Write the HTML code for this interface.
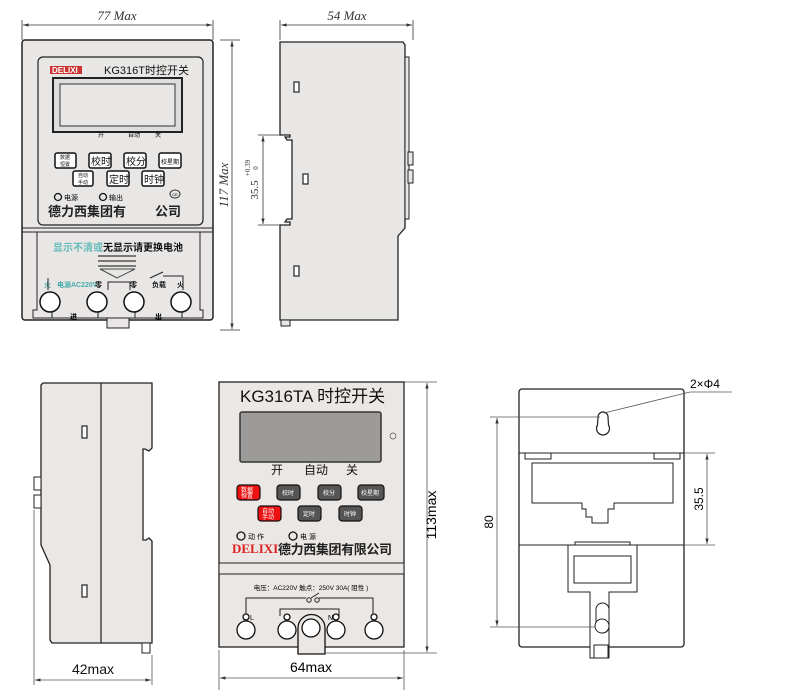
<!DOCTYPE html>
<html><head><meta charset="utf-8"><style>body{margin:0;background:#fff}svg{display:block}</style></head><body>
<svg width="790" height="700" viewBox="0 0 790 700" xmlns="http://www.w3.org/2000/svg" font-family="Liberation Sans, Noto Sans CJK SC, sans-serif">
<defs><marker id="a" viewBox="0 0 10 10" refX="10" refY="5" markerWidth="7" markerHeight="7" orient="auto-start-reverse"><path d="M0,2 L10,5 L0,8z" fill="#333"/></marker></defs>
<g stroke="#333" stroke-width="0.8" fill="none">
<line x1="22" y1="20" x2="22" y2="40"/><line x1="213" y1="20" x2="213" y2="40"/>
<line x1="23" y1="25" x2="212" y2="25" marker-start="url(#a)" marker-end="url(#a)"/>
<line x1="220" y1="40" x2="240" y2="40"/><line x1="220" y1="330" x2="240" y2="330"/>
<line x1="232" y1="41" x2="232" y2="329" marker-start="url(#a)" marker-end="url(#a)"/>
</g>
<text x="117" y="20" font-family="Liberation Serif" font-style="italic" font-size="13" text-anchor="middle" fill="#333">77 Max</text>
<text transform="translate(228,185) rotate(-90)" font-family="Liberation Serif" font-style="italic" font-size="13" text-anchor="middle" fill="#333">117 Max</text>
<rect x="22" y="40" width="191" height="280" rx="3" fill="#e9e7e5" stroke="#222" stroke-width="1.5"/>
<rect x="38" y="57" width="165" height="168" rx="5" fill="#e9e7e5" stroke="#222" stroke-width="1.2"/>
<line x1="22" y1="228" x2="213" y2="228" stroke="#222"/><line x1="22" y1="232" x2="213" y2="232" stroke="#222"/>
<path d="M37,232 V310 H33 V318 H203 V310 H200 V232" fill="none" stroke="#222"/>
<rect x="107" y="318" width="22" height="10" fill="#e9e7e5" stroke="#222"/>
<rect x="50" y="66" width="32" height="8" fill="#c33"/>
<text x="52" y="73" font-size="8" font-weight="bold" fill="#fff">DELIXI</text>
<text x="104" y="74" font-size="11" fill="#111">KG316T时控开关</text>
<rect x="53" y="78" width="129" height="54" fill="#ddd" stroke="#222" stroke-width="2"/>
<rect x="60" y="84" width="115" height="42" fill="#e9e7e5" stroke="#333"/>
<text x="98" y="137" font-size="6">开</text><text x="128" y="137" font-size="6">自动</text><text x="155" y="137" font-size="6">关</text>
<g fill="#fff" stroke="#111" stroke-width="1.5">
<rect x="55" y="153" width="21" height="15" rx="2"/><rect x="89" y="153" width="22" height="15" rx="2"/><rect x="124" y="153" width="22" height="15" rx="2"/><rect x="159" y="153" width="22" height="15" rx="2"/>
<rect x="73" y="171" width="20" height="15" rx="2"/><rect x="107" y="171" width="22" height="15" rx="2"/><rect x="142" y="171" width="22" height="15" rx="2"/>
</g>
<g font-size="10" fill="#111"><text x="91" y="165">校时</text><text x="126" y="165">校分</text><text x="109" y="183">定时</text><text x="144" y="183">时钟</text></g>
<text x="161" y="164" font-size="6">校星期</text>
<g font-size="5" fill="#111"><text x="60" y="159">数据</text><text x="60" y="166">恒置</text><text x="78" y="177">自动</text><text x="78" y="184">手动</text></g>
<circle cx="58" cy="197" r="3.5" fill="none" stroke="#111" stroke-width="1.3"/><text x="64" y="200" font-size="7">电源</text>
<circle cx="103" cy="197" r="3.5" fill="none" stroke="#111" stroke-width="1.3"/><text x="109" y="200" font-size="7">输出</text>
<ellipse cx="175" cy="194" rx="5" ry="4" fill="none" stroke="#333"/><text x="175" y="196" font-size="4" text-anchor="middle">CE</text>
<text x="48" y="216" font-size="13" font-weight="bold" fill="#222">德力西集团有</text><text x="155" y="216" font-size="13" font-weight="bold" fill="#222">公司</text>
<text x="53" y="251" font-size="10" font-weight="bold" fill="#6bb"><tspan>显示不清或</tspan><tspan fill="#111">无显示请更换电池</tspan></text>
<g stroke="#555" stroke-width="1.5"><line x1="98" y1="256" x2="136" y2="256"/><line x1="98" y1="261" x2="136" y2="261"/><line x1="98" y1="266" x2="136" y2="266"/></g>
<path d="M100,269 H135 L117,278z" fill="#e9e7e5" stroke="#444"/>
<g font-size="7" font-weight="bold" fill="#111"><text x="44" y="287" fill="#4aa">火</text><text x="57" y="287" fill="#4aa">电源AC220V</text><text x="95" y="287">零</text><text x="130" y="287">零</text><text x="152" y="287">负载</text><text x="177" y="287">火</text></g>
<g fill="none" stroke="#222"><line x1="48" y1="278" x2="48" y2="290"/><path d="M108,290 V282 H130 V290"/><path d="M150,278 L163,272"/><path d="M163,276 H183 V290"/>
<path d="M52,312 V318 H98 V312"/><path d="M135,312 V318 H182 V312"/></g>
<g fill="#fff" stroke="#111" stroke-width="1.5"><circle cx="50" cy="302" r="10"/><circle cx="97" cy="302" r="10"/><circle cx="134" cy="302" r="10"/><circle cx="181" cy="302" r="10"/></g>
<text x="70" y="319" font-size="7" font-weight="bold">进</text><text x="155" y="319" font-size="7" font-weight="bold">出</text>
<g stroke="#333" stroke-width="0.8" fill="none">
<line x1="280" y1="20" x2="280" y2="40"/><line x1="413" y1="20" x2="413" y2="40"/>
<line x1="281" y1="25" x2="412" y2="25" marker-start="url(#a)" marker-end="url(#a)"/>
<line x1="258" y1="135" x2="282" y2="135"/><line x1="258" y1="225" x2="282" y2="225"/>
<line x1="263" y1="136" x2="263" y2="224" marker-start="url(#a)" marker-end="url(#a)"/>
</g>
<text x="347" y="20" font-family="Liberation Serif" font-style="italic" font-size="13" text-anchor="middle" fill="#333">54 Max</text>
<text transform="translate(258,190) rotate(-90)" font-family="Liberation Serif" font-size="11" text-anchor="middle" fill="#333">35.5</text>
<text transform="translate(250,168) rotate(-90)" font-family="Liberation Serif" font-size="7" text-anchor="middle" fill="#333">+0.39</text>
<text transform="translate(258,168) rotate(-90)" font-family="Liberation Serif" font-size="7" text-anchor="middle" fill="#333">0</text>
<path d="M280,42 H403 L405,45 V228 L398,236 V320 H280 V225 H290 V222 L285,222 L287,219 H292 V140 H287 L285,137 H290 V135 H280z" fill="#e9e7e5" stroke="#222" stroke-width="1.3"/>
<rect x="405" y="57" width="4" height="162" fill="#e9e7e5" stroke="#222"/>
<rect x="408" y="152" width="5" height="13" fill="#e9e7e5" stroke="#222"/><rect x="408" y="170" width="5" height="13" fill="#e9e7e5" stroke="#222"/>
<rect x="281" y="320" width="9" height="6" fill="#e9e7e5" stroke="#222"/>
<g fill="#fff" stroke="#222" stroke-width="1.2"><rect x="294" y="82" width="5" height="10"/><rect x="303" y="174" width="5" height="10"/><rect x="294" y="266" width="5" height="10"/></g>
<path d="M43,383 H152 V448 L149,451 L145,449 H143 V540 H146 L149,538 L152,541 V643 H52 L50,640 V565 L41,545 V385z" fill="#eae7e4" stroke="#222" stroke-width="1.3"/>
<line x1="101" y1="383" x2="101" y2="643" stroke="#222" stroke-width="1.2"/>
<rect x="142" y="643" width="8" height="10" fill="#fff" stroke="#222"/>
<rect x="34" y="477" width="7" height="13" fill="#fff" stroke="#222"/><rect x="34" y="495" width="7" height="13" fill="#fff" stroke="#222"/>
<rect x="82" y="426" width="5" height="12" fill="#fff" stroke="#222" stroke-width="1.2"/><rect x="82" y="585" width="5" height="12" fill="#fff" stroke="#222" stroke-width="1.2"/>
<g stroke="#555" stroke-width="0.8" fill="none"><line x1="34" y1="510" x2="34" y2="685"/><line x1="152" y1="655" x2="152" y2="685"/>
<line x1="35" y1="680" x2="151" y2="680" marker-start="url(#a)" marker-end="url(#a)"/></g>
<text x="93" y="674" font-size="14" text-anchor="middle" fill="#111">42max</text>
<rect x="219" y="382" width="185" height="265" fill="#eae7e4" stroke="#222" stroke-width="1.3"/>
<rect x="219" y="563" width="185" height="11" fill="#eae7e4" stroke="#222"/>
<text x="240" y="402" font-size="17" fill="#111">KG316TA 时控开关</text>
<rect x="240" y="412" width="141" height="50" rx="2" fill="#9d9b9a" stroke="#333" stroke-width="1.5"/>
<circle cx="393" cy="436" r="3" fill="none" stroke="#555" stroke-width="0.7"/>
<g font-size="12" fill="#111"><text x="271" y="474">开</text><text x="304" y="474">自动</text><text x="346" y="474">关</text></g>
<g stroke="#111" stroke-width="1.2"><rect x="237" y="485" width="23" height="15" rx="3" fill="#e11"/><rect x="277" y="485" width="23" height="15" rx="3" fill="#555"/><rect x="318" y="485" width="23" height="15" rx="3" fill="#555"/><rect x="358" y="485" width="26" height="15" rx="3" fill="#555"/>
<rect x="258" y="506" width="23" height="15" rx="3" fill="#e11"/><rect x="298" y="506" width="23" height="15" rx="3" fill="#555"/><rect x="339" y="506" width="23" height="15" rx="3" fill="#555"/></g>
<g font-size="6" fill="#fff"><text x="241" y="492">数据</text><text x="241" y="498">恒置</text><text x="282" y="495">校时</text><text x="323" y="495">校分</text><text x="361" y="495">校星期</text>
<text x="262" y="513">自动</text><text x="262" y="519">手动</text><text x="303" y="516">定时</text><text x="344" y="516">时钟</text></g>
<circle cx="241" cy="536" r="4" fill="none" stroke="#111" stroke-width="1.3"/><text x="248" y="539" font-size="7">动 作</text>
<circle cx="293" cy="536" r="4" fill="none" stroke="#111" stroke-width="1.3"/><text x="300" y="539" font-size="7">电 源</text>
<text x="232" y="553" font-family="Liberation Serif" font-size="13" font-weight="bold" fill="#d22">DELIXI</text>
<text x="278" y="554" font-size="13" font-weight="bold" fill="#222" textLength="114">德力西集团有限公司</text>
<text x="311" y="590" font-size="6.5" text-anchor="middle">电压：AC220V 触点：250V 30A( 阻性 )</text>
<g fill="none" stroke="#222"><path d="M246,615 V598 H306"/><circle cx="309" cy="600" r="2.2"/><circle cx="317" cy="600" r="2.2"/><path d="M311,598 L319,593"/><path d="M319,598 H373 V615"/><path d="M280,616 V609 H339 V616"/></g>
<g font-size="7"><text x="250" y="620">L</text><text x="284" y="620">N</text><text x="328" y="620">N</text><text x="372" y="620">L</text></g>
<g fill="#fff" stroke="#111" stroke-width="1.3"><circle cx="246" cy="617" r="3"/><circle cx="287" cy="617" r="3"/><circle cx="336" cy="617" r="3"/><circle cx="374" cy="617" r="3"/>
<circle cx="246" cy="630" r="9"/><circle cx="287" cy="630" r="9"/><circle cx="336" cy="630" r="9"/><circle cx="374" cy="630" r="9"/>
<path d="M298,654 V628 A13,13 0 0 1 325,628 V654z" fill="#eae7e4"/><circle cx="311" cy="628" r="9"/></g>
<g stroke="#555" stroke-width="0.8" fill="none"><line x1="404" y1="382" x2="437" y2="382"/><line x1="326" y1="653" x2="437" y2="653"/>
<line x1="427" y1="383" x2="427" y2="652" marker-start="url(#a)" marker-end="url(#a)"/>
<line x1="219" y1="650" x2="219" y2="690"/><line x1="404" y1="650" x2="404" y2="690"/>
<line x1="220" y1="678" x2="403" y2="678" marker-start="url(#a)" marker-end="url(#a)"/></g>
<text transform="translate(436,515) rotate(-90)" font-size="14" text-anchor="middle">113max</text>
<text x="311" y="672" font-size="14" text-anchor="middle">64max</text>
<rect x="519" y="389" width="165" height="258" rx="3" fill="#fff" stroke="#222" stroke-width="1.3"/>
<line x1="519" y1="453" x2="684" y2="453" stroke="#222"/><line x1="519" y1="545" x2="684" y2="545" stroke="#222"/>
<path d="M598,417 A5,5 0 0 1 608,417 L608.5,425 A6.5,6.5 0 1 1 597.5,425z" fill="#fff" stroke="#222" stroke-width="1.2"/>
<g fill="#fff" stroke="#222"><rect x="525" y="453" width="26" height="6"/><rect x="654" y="453" width="26" height="6"/>
<path d="M532,463 H673 V503 H614 V509 H608 V523 H592 V517 H586 V509 H582 V503 H532z"/>
<rect x="575" y="542" width="55" height="6"/>
<path d="M568,545 H637 V592 H609 V658 H590 V592 H568z"/>
<rect x="574" y="556" width="57" height="27"/>
<rect x="594" y="645" width="14" height="13"/><rect x="596" y="603" width="13" height="30" rx="6.5"/><circle cx="602" cy="626" r="7"/></g>
<g stroke="#555" stroke-width="0.8" fill="none"><line x1="490" y1="417" x2="600" y2="417"/><line x1="490" y1="627" x2="595" y2="627"/>
<line x1="497" y1="418" x2="497" y2="626" marker-start="url(#a)" marker-end="url(#a)"/>
<line x1="684" y1="453" x2="715" y2="453"/><line x1="684" y1="545" x2="715" y2="545"/>
<line x1="707" y1="454" x2="707" y2="544" marker-start="url(#a)" marker-end="url(#a)"/>
<path d="M604,413 L690,392 H732"/></g>
<text x="690" y="388" font-size="12">2×Φ4</text>
<text transform="translate(493,522) rotate(-90)" font-size="12" text-anchor="middle">80</text>
<text transform="translate(703,499) rotate(-90)" font-size="12" text-anchor="middle">35.5</text>
</svg>
</body></html>
